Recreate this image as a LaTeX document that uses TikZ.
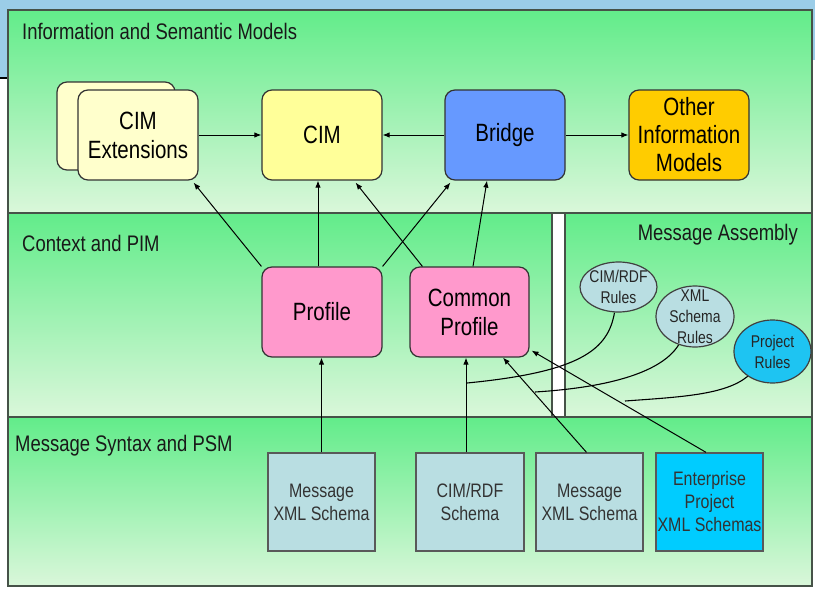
\documentclass[tikz,border=0pt]{standalone}
\usepackage{fontspec}
\setmainfont{Liberation Sans}[FakeStretch=0.82]
\usetikzlibrary{arrows.meta,shapes.geometric,calc}
\definecolor{skyband}{RGB}{155,205,232}
\definecolor{gtop}{RGB}{98,236,138}
\definecolor{gbot}{RGB}{218,247,218}
\definecolor{panelline}{RGB}{70,82,72}
\definecolor{extfill}{RGB}{255,255,204}
\definecolor{cimfill}{RGB}{255,255,153}
\definecolor{bridgefill}{RGB}{102,153,255}
\definecolor{otherfill}{RGB}{255,204,0}
\definecolor{proffill}{RGB}{255,153,204}
\definecolor{schemafill}{RGB}{185,222,226}
\definecolor{entfill}{RGB}{0,204,255}
\definecolor{projfill}{RGB}{30,196,242}
\begin{document}
\begin{tikzpicture}[x=1pt,y=-1pt,
  panel/.style={draw=panelline,line width=2pt},
  box/.style={draw=black!80,line width=1.2pt,rounded corners=10pt,minimum width=120pt,minimum height=90pt,inner sep=0pt,align=center,font=\fontsize{25}{29}\selectfont},
  sbox/.style={draw=black!65,line width=1.3pt,minimum width=107pt,minimum height=98pt,inner sep=0pt,align=center,font=\fontsize{19.5}{23}\selectfont,text=black!80},
  rulenode/.style={ellipse,draw=black!75,line width=1.2pt,inner sep=0pt},
  ruletext/.style={align=center,font=\fontsize{17}{21}\selectfont,text=black!85,inner sep=0pt},
  lbl/.style={anchor=west,inner sep=0pt,font=\fontsize{22.5}{26}\selectfont,text=black!90},
  arr/.style={-{Latex[length=7pt,width=5.5pt]},line width=1pt},
  conn/.style={line width=1.1pt}]
\useasboundingbox (0,0) rectangle (815,589);
\fill[white] (0,0) rectangle (815,589);
\fill[skyband] (0,0) rectangle (815,10);
\fill[skyband] (0,0) rectangle (8,78);
\fill[skyband] (812,0) rectangle (815,60);
\draw[line width=2pt] (0,78) -- (8,78);
% panels
\shade[top color=gtop,bottom color=gbot] (8,10) rectangle (812,213);
\draw[panel] (8,10) rectangle (812,213);
\shade[top color=gtop,bottom color=gbot] (8,213) rectangle (552,417);
\draw[panel] (8,213) rectangle (552,417);
\shade[top color=gtop,bottom color=gbot] (565,213) rectangle (812,417);
\draw[panel] (565,213) rectangle (812,417);
\shade[top color=gtop,bottom color=gbot] (8,417) rectangle (812,586);
\draw[panel] (8,417) rectangle (812,586);
% panel labels
\node[lbl] (l1) at (22,31) {Information and Semantic Models};
\node[lbl] (l2) at (22,243) {Context and PIM};
\node[lbl] (l3) at (15,446) {Message Syntax and PSM};
\node[lbl,anchor=east] (l4) at (798,235) {Message Assembly};
% top row
\node[box,fill=extfill,minimum width=118pt,minimum height=88pt] (extb) at (116,126) {};
\node[box,fill=extfill] (ext) at (138,135) {CIM\\Extensions};
\node[box,fill=cimfill] (cim) at (322,135) {CIM};
\node[box,fill=bridgefill] (bridge) at (505,135) {Bridge};
\node[box,fill=otherfill,font=\fontsize{25}{28}\selectfont] (other) at (689,135) {Other\\Information\\Models};
% profiles
\node[box,fill=proffill] (prof) at (322,312) {Profile};
\node[box,fill=proffill,minimum width=119pt] (cprof) at (469.5,312) {Common\\Profile};
% schemas
\node[sbox,fill=schemafill] (mx1) at (321.5,502) {Message\\XML Schema};
\node[sbox,fill=schemafill,minimum width=108pt] (cs) at (470,502) {CIM/RDF\\Schema};
\node[sbox,fill=schemafill] (mx2) at (589.5,502) {Message\\XML Schema};
\node[sbox,fill=entfill] (ent) at (709.5,502) {Enterprise\\Project\\XML Schemas};
% rules
\node[rulenode,fill=schemafill,minimum width=77pt,minimum height=50pt] (crr) at (618.5,287) {};
\node[ruletext] (crrt) at (crr) {CIM/RDF\\Rules};
\node[rulenode,fill=schemafill,minimum width=78pt,minimum height=61pt] (xr) at (695,316.5) {};
\node[ruletext] (xrt) at (xr) {XML\\Schema\\Rules};
\node[rulenode,fill=projfill,minimum width=77pt,minimum height=63pt] (pr) at (772.5,351.5) {};
\node[ruletext] (prt) at (pr) {Project\\Rules};
% horizontal arrows
\draw[arr] (ext.east) -- (cim.west);
\draw[arr] (bridge.west) -- (cim.east);
\draw[arr] (bridge.east) -- (other.west);
% upward arrows to top row
\draw[arr] (prof.north west) -- ([xshift=-5pt,yshift=-2pt]ext.south east);
\draw[arr] ([xshift=-4pt]prof.north) -- ([xshift=-4pt]cim.south);
\draw[arr] (prof.north east) -- ([xshift=6pt,yshift=-2pt]bridge.south west);
\draw[arr] ([xshift=13pt]cprof.north west) -- ([xshift=-27pt,yshift=-2pt]cim.south east);
\draw[arr] ([xshift=3.5pt]cprof.north) -- ([xshift=-18pt]bridge.south);
% rule curves
\draw[conn] ([xshift=-4pt]crr.south) .. controls (608,350) and (580,372) .. (467,383);
\draw[conn] (xr.240) .. controls (660,375) and (600,388) .. (535,392);
\draw[conn] (pr.225) .. controls (725,395) and (680,397) .. (625,401);
% upward arrows to profiles
\draw[arr] (mx1.north) -- (mx1.north |- prof.south);
\draw[arr] ([xshift=-4pt]cs.north) -- ([xshift=-3.5pt]cprof.south);
\draw[arr] ([xshift=-3pt]mx2.north) -- ([xshift=33.5pt]cprof.south);
\draw[arr] ([xshift=-3.5pt]ent.north) -- ([xshift=2pt,yshift=7pt]cprof.south east);
\end{tikzpicture}
\end{document}
